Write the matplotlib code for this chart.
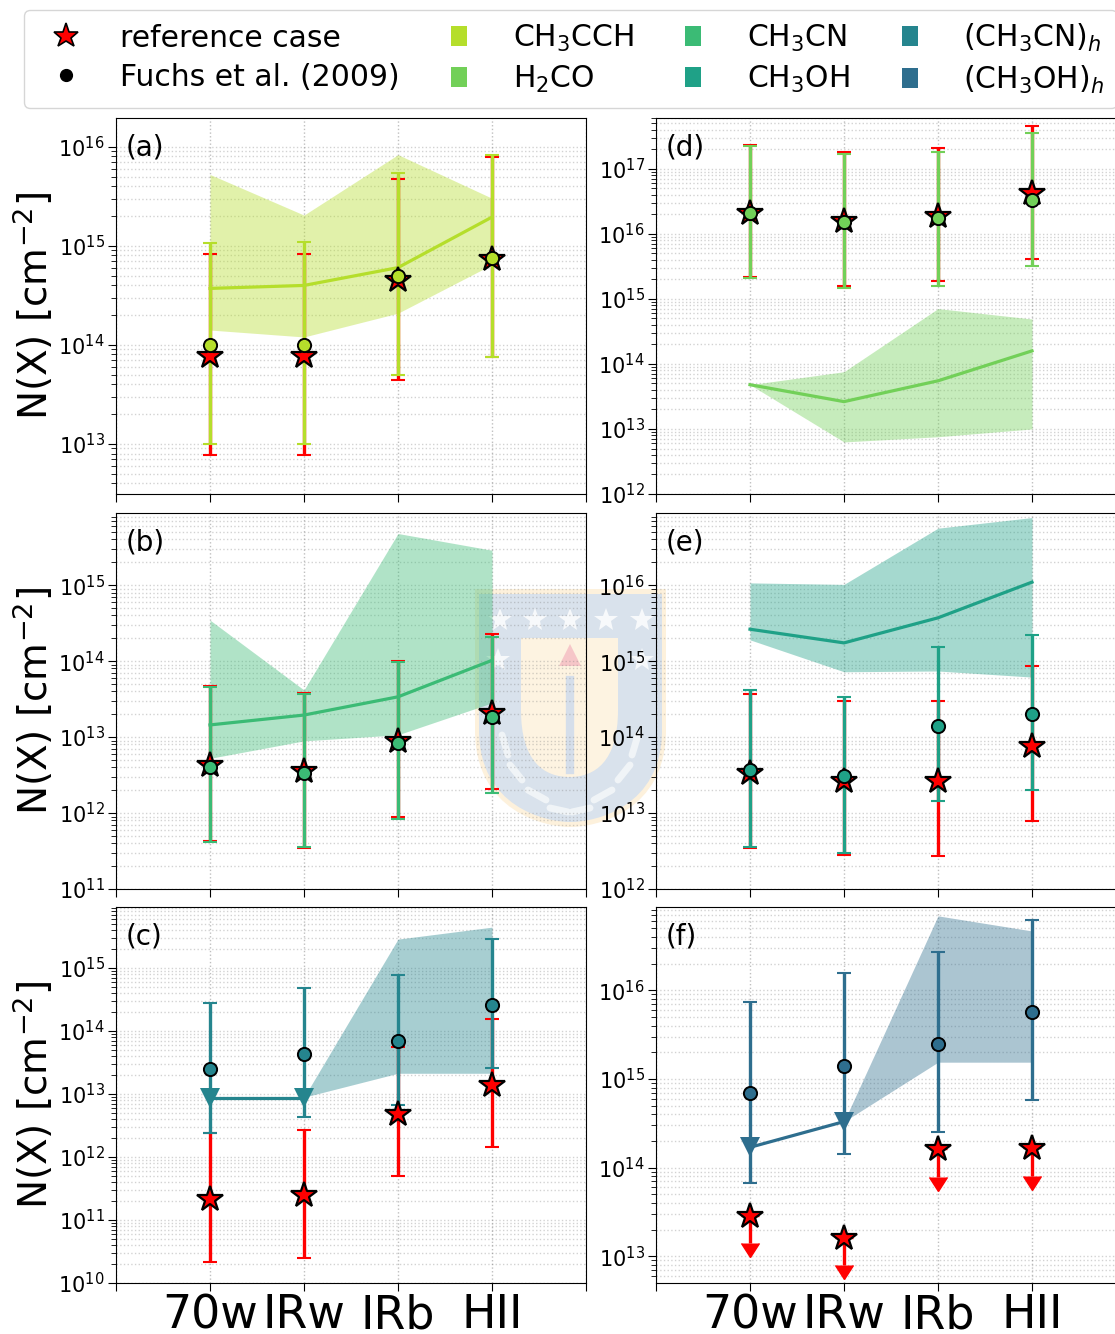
import numpy as np
import matplotlib
matplotlib.use("Agg")
import matplotlib.pyplot as plt
from matplotlib.lines import Line2D
from matplotlib.path import Path
from matplotlib.patches import PathPatch
from matplotlib.ticker import LogLocator, NullFormatter

W, H = 1115, 1334

# all column densities below are log10(N / cm^-2)
classes = ["", "70w", "IRw", "IRb", "HII", ""]
x_pos = [1, 2, 3, 4]

# (a) CH3CCH
a_top = [15.72, 15.31, 15.92, 15.48]
a_bot = [14.15, 14.08, 14.32, 14.81]
a_med = [14.57, 14.60, 14.78, 15.29]
a_ref = [13.89, 13.89, 14.65, 14.87]
a_ref_hi = [14.92, 14.92, 15.67, 15.90]
a_ref_lo = [12.89, 12.89, 13.65, 13.88]
a_fuchs = [14.00, 14.00, 14.70, 14.88]
a_fuchs_hi = [15.03, 15.04, 15.73, 15.92]
a_fuchs_lo = [13.00, 13.00, 13.70, 13.88]

# (b) CH3CN
b_top = [14.54, 13.62, 15.68, 15.46]
b_bot = [12.72, 12.95, 13.03, 13.45]
b_med = [13.16, 13.29, 13.53, 14.01]
b_ref = [12.63, 12.55, 12.95, 13.32]
b_ref_hi = [13.67, 13.58, 14.00, 14.36]
b_ref_lo = [11.63, 11.54, 11.95, 12.32]
b_fuchs = [12.60, 12.53, 12.92, 13.26]
b_fuchs_hi = [13.66, 13.57, 13.99, 14.32]
b_fuchs_lo = [11.62, 11.55, 11.92, 12.26]

# (c) (CH3CN)_h, upper limits for the first two classes
c_top = [12.95, 15.46, 15.65]
c_bot = [12.95, 13.33, 13.33]
c_med = [12.94, 12.94]
c_ref = [11.33, 11.40, 12.68, 13.14]
c_ref_hi = [12.38, 12.43, 13.75, 14.19]
c_ref_lo = [10.33, 10.40, 11.70, 12.16]
c_fuchs = [13.40, 13.63, 13.84, 14.41]
c_fuchs_hi = [14.44, 14.68, 14.89, 15.46]
c_fuchs_lo = [12.38, 12.63, 12.83, 13.41]

# (d) H2CO
d_top = [13.68, 13.88, 14.85, 14.69]
d_bot = [13.68, 12.80, 12.88, 13.00]
d_med = [13.68, 13.42, 13.74, 14.20]
d_ref = [16.32, 16.20, 16.28, 16.62]
d_ref_hi = [17.37, 17.25, 17.32, 17.65]
d_ref_lo = [15.34, 15.20, 15.28, 15.62]
d_fuchs = [16.32, 16.18, 16.25, 16.52]
d_fuchs_hi = [17.35, 17.22, 17.25, 17.55]
d_fuchs_lo = [15.32, 15.17, 15.20, 15.50]

# (e) CH3OH
e_top = [16.03, 16.01, 16.75, 16.89]
e_bot = [15.28, 14.86, 14.87, 14.79]
e_med = [15.42, 15.24, 15.57, 16.04]
e_ref = [13.53, 13.42, 13.42, 13.88]
e_ref_hi = [14.57, 14.47, 14.47, 14.93]
e_ref_lo = [12.54, 12.45, 12.43, 12.89]
e_fuchs = [13.57, 13.49, 14.14, 14.30]
e_fuchs_hi = [14.62, 14.53, 15.18, 15.34]
e_fuchs_lo = [12.55, 12.48, 13.16, 13.30]

# (f) (CH3OH)_h, reference case only has upper limits
f_top = [14.52, 16.84, 16.67]
f_bot = [14.52, 15.19, 15.19]
f_med = [14.23, 14.52]
f_ref = [13.45, 13.21, 14.21, 14.22]
f_ref_lo = [13.15, 12.90, 13.89, 13.91]
f_fuchs = [14.84, 15.15, 15.39, 15.76]
f_fuchs_hi = [15.87, 16.20, 16.43, 16.79]
f_fuchs_lo = [13.83, 14.16, 14.40, 14.76]

species = ["CH$_3$CCH", "H$_2$CO", "CH$_3$CN", "CH$_3$OH",
           "(CH$_3$CN)$_h$", "(CH$_3$OH)$_h$"]
colors = ["#b5de2b", "#72d058", "#3bbb75", "#1fa187", "#25858e", "#2e6e8e"]


def new_axes(fig, left, top, ylim):
    ax = fig.add_axes([left / W, 1 - (top + 376) / H, 470 / W, 376 / H])
    ax.patch.set_visible(False)
    ax.set_yscale("log")
    ax.set_xlim(0, 5)
    ax.set_ylim(10.0 ** ylim[0], 10.0 ** ylim[1])
    ax.set_xticks(range(6))
    ax.yaxis.set_major_locator(LogLocator(base=10, numticks=20))
    ax.yaxis.set_minor_locator(LogLocator(base=10, subs=np.arange(2, 10) * 0.1, numticks=20))
    ax.yaxis.set_minor_formatter(NullFormatter())
    ax.tick_params(axis="y", which="major", labelsize=15, length=6, pad=2)
    ax.tick_params(axis="y", which="minor", length=3.5)
    ax.tick_params(axis="x", length=6, labelbottom=False)
    ax.grid(True, axis="x", ls=":", color="gray", alpha=0.5, lw=1)
    ax.grid(True, axis="y", which="both", ls=":", color="gray", alpha=0.35, lw=1)
    ax.set_axisbelow(True)
    return ax


def errbar(ax, x, y, hi, lo, color):
    y, hi, lo = [10.0 ** np.array(v) for v in (y, hi, lo)]
    ax.errorbar(x, y, yerr=[y - lo, hi - y], fmt="none", ecolor=color,
                elinewidth=2.4, capsize=5, capthick=1.5)


def draw_panel(ax, label, color, band_x, top, bot, med_x, med, ref, ref_hi, ref_lo,
               fuchs, fuchs_hi, fuchs_lo, limit_med=False, limit_ref=False):
    ax.fill_between(band_x, 10.0 ** np.array(bot), 10.0 ** np.array(top),
                    color=color, alpha=0.4, lw=0)
    ax.plot(med_x, 10.0 ** np.array(med), color=color, lw=2.3, zorder=3,
            marker="v" if limit_med else None, ms=15, mew=0)
    if limit_ref:
        y = 10.0 ** np.array(ref)
        low = 10.0 ** np.array(ref_lo)
        eb = ax.errorbar(x_pos, y, yerr=y - low, uplims=True, fmt="none", ecolor="red",
                         elinewidth=2.4, capsize=6.5, zorder=4)
        for cap in eb[1]:
            cap.set_markerfacecolor("red")
            cap.set_markeredgecolor("red")
    else:
        errbar(ax, x_pos, ref, ref_hi, ref_lo, "red")
    ax.plot(x_pos, 10.0 ** np.array(ref), ls="none", marker="*", ms=19, mfc="red",
            mec="black", mew=1.6, zorder=6)
    errbar(ax, x_pos, fuchs, fuchs_hi, fuchs_lo, color)
    ax.plot(x_pos, 10.0 ** np.array(fuchs), ls="none", marker="o", ms=9.5, mfc=color,
            mec="black", mew=1.4, zorder=7)
    ax.text(0.021, 0.9, label, transform=ax.transAxes, fontsize=20, va="baseline")


def add_crest(fig):
    # university crest watermark sitting under the axes, pixel coordinates
    def to_fig(pts):
        return [(px / W, 1 - py / H) for px, py in pts]

    def shield(x0, x1, y0, y1, y_mid, **kw):
        xc = 0.5 * (x0 + x1)
        verts = [(x0, y0), (x1, y0), (x1, y_mid), (x1, y1 - 15), (xc + 25, y1), (xc, y1),
                 (xc - 25, y1), (x0, y1 - 15), (x0, y_mid), (x0, y0)]
        codes = [Path.MOVETO, Path.LINETO, Path.LINETO, Path.CURVE4, Path.CURVE4, Path.CURVE4,
                 Path.CURVE4, Path.CURVE4, Path.CURVE4, Path.LINETO]
        fig.add_artist(PathPatch(Path(to_fig(verts), codes), transform=fig.transFigure,
                                 lw=0, zorder=-5, **kw))

    shield(475, 666, 589, 827, 730, facecolor="#fdf1dc")
    shield(479, 662, 594, 822, 730, facecolor="#d9e2ec")
    shield(521, 618, 638, 777, 710, facecolor="#fdf3e1")
    for sx, sy in [(500, 620), (535, 620), (570, 620), (606, 620), (642, 620), (498, 660), (642, 660)]:
        fig.add_artist(Line2D([sx / W], [1 - sy / H], marker="*", ms=18, color="#f7f9fb", mew=0,
                              zorder=-4, transform=fig.transFigure))
    fig.add_artist(Line2D([570 / W], [1 - 655 / H], marker="^", ms=16, color="#f6c6c8", mew=0,
                          zorder=-4, transform=fig.transFigure))
    fig.add_artist(Line2D([570 / W, 570 / W], [1 - 680 / H, 1 - 770 / H], color="#d5deea", lw=6,
                          zorder=-4, transform=fig.transFigure))
    # wreath leaves
    for x0, y0, x1, y1 in [(502, 735, 508, 755), (510, 765, 522, 780), (528, 790, 546, 800),
                           (550, 808, 568, 812), (638, 735, 632, 755), (630, 765, 618, 780),
                           (612, 790, 594, 800), (590, 808, 572, 812)]:
        fig.add_artist(Line2D([x0 / W, x1 / W], [1 - y0 / H, 1 - y1 / H], color="#f0f4f7", lw=5,
                              solid_capstyle="round", zorder=-4, transform=fig.transFigure))


def main():
    fig = plt.figure(figsize=(W / 100, H / 100), dpi=100)

    ax_a = new_axes(fig, 116, 118, (12.495, 16.29))
    ax_b = new_axes(fig, 116, 513, (11.0, 15.95))
    ax_c = new_axes(fig, 116, 907, (10.0, 15.97))
    ax_d = new_axes(fig, 656, 118, (12.0, 17.78))
    ax_e = new_axes(fig, 656, 513, (12.0, 16.95))
    ax_f = new_axes(fig, 656, 907, (12.70, 16.94))

    draw_panel(ax_a, "(a)", colors[0], x_pos, a_top, a_bot, x_pos, a_med,
               a_ref, a_ref_hi, a_ref_lo, a_fuchs, a_fuchs_hi, a_fuchs_lo)
    draw_panel(ax_b, "(b)", colors[2], x_pos, b_top, b_bot, x_pos, b_med,
               b_ref, b_ref_hi, b_ref_lo, b_fuchs, b_fuchs_hi, b_fuchs_lo)
    draw_panel(ax_c, "(c)", colors[4], x_pos[1:], c_top, c_bot, x_pos[:2], c_med,
               c_ref, c_ref_hi, c_ref_lo, c_fuchs, c_fuchs_hi, c_fuchs_lo, limit_med=True)
    draw_panel(ax_d, "(d)", colors[1], x_pos, d_top, d_bot, x_pos, d_med,
               d_ref, d_ref_hi, d_ref_lo, d_fuchs, d_fuchs_hi, d_fuchs_lo)
    draw_panel(ax_e, "(e)", colors[3], x_pos, e_top, e_bot, x_pos, e_med,
               e_ref, e_ref_hi, e_ref_lo, e_fuchs, e_fuchs_hi, e_fuchs_lo)
    draw_panel(ax_f, "(f)", colors[5], x_pos[1:], f_top, f_bot, x_pos[:2], f_med,
               f_ref, None, f_ref_lo, f_fuchs, f_fuchs_hi, f_fuchs_lo,
               limit_med=True, limit_ref=True)

    for ax in (ax_a, ax_b, ax_c):
        ax.set_ylabel("N(X) [cm$^{-2}$]", fontsize=28)
        ax.yaxis.set_label_coords(-0.128, 0.5)
    for ax in (ax_c, ax_f):
        ax.set_xticklabels(classes)
        ax.tick_params(axis="x", labelbottom=True, labelsize=33, pad=1.5)

    # legend boxes are a bit taller than wide
    box = np.array([[-0.75, -1], [0.75, -1], [0.75, 1], [-0.75, 1], [-0.75, -1]])
    handles = [
        Line2D([], [], ls="none", marker="*", ms=18.5, mfc="red", mec="black", mew=1.2),
        Line2D([], [], ls="none", marker="o", ms=8.5, mfc="black", mec="black"),
    ]
    labels = ["reference case", "Fuchs et al. (2009)"]
    for name, col in zip(species, colors):
        handles.append(Line2D([], [], ls="none", marker=box, ms=14.5, color=col, mew=0))
        labels.append(name)
    fig.legend(handles, labels, ncols=4, loc="upper left", bbox_to_anchor=(24 / W, 1 - 10 / H),
               borderaxespad=0, fontsize=21.5, handlelength=2, handletextpad=0.8,
               columnspacing=1.0, borderpad=0.4, labelspacing=0.33)

    add_crest(fig)
    fig.savefig("out.png", dpi=100)


if __name__ == "__main__":
    main()
